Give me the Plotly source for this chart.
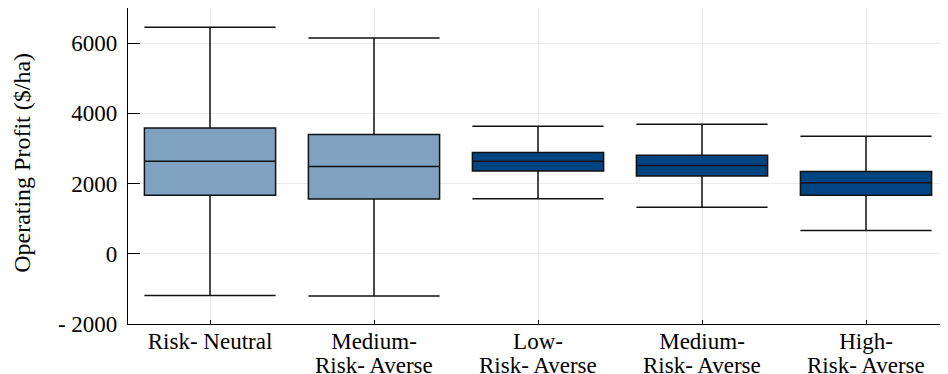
import plotly.graph_objects as go

line1 = ["Risk- Neutral", "Medium-", "Low-", "Medium-", "High-"]
line2 = ["", "Risk- Averse", "Risk- Averse", "Risk- Averse", "Risk- Averse"]
lower = [-1185, -1200, 1570, 1325, 660]
q1 = [1665, 1560, 2355, 2213, 1665]
median = [2638, 2488, 2638, 2516, 2023]
q3 = [3583, 3396, 2885, 2809, 2346]
upper = [6450, 6147, 3631, 3688, 3348]
colors = ["#7fa2c0", "#7fa2c0", "#004481", "#004481", "#004481"]

y_tickvals = [-2000, 0, 2000, 4000, 6000]
y_ticktext = ["- 2000", "0", "2000", "4000", "6000"]
y_title = "Operating Profit ($/ha)"

FONT = "Liberation Serif"
fig = go.Figure()
for i in range(len(line1)):
    fig.add_trace(go.Box(
        x=[i], q1=[q1[i]], median=[median[i]], q3=[q3[i]],
        lowerfence=[lower[i]], upperfence=[upper[i]],
        width=0.8, whiskerwidth=1,
        fillcolor=colors[i],
        line=dict(color="#111111", width=1.5),
        boxpoints=False, showlegend=False, hoverinfo="skip",
    ))
    if line2[i]:
        fig.add_annotation(
            x=i, y=0, xref="x", yref="paper", text=line2[i],
            showarrow=False, yanchor="top", yshift=-27,
            font=dict(family=FONT, size=23, color="black"),
        )

# y-axis title as a rotated annotation pushed to the left edge
fig.add_annotation(
    x=0, y=0.51, xref="paper", yref="paper", text=y_title,
    textangle=-90, showarrow=False, xanchor="left", yanchor="middle",
    xshift=-121, font=dict(family=FONT, size=24, color="black"),
)

# page body has an 8px margin, so the figure is sized to fit the window
fig.update_layout(
    width=940, height=366,
    margin=dict(l=120, r=0, t=0, b=50, autoexpand=False),
    plot_bgcolor="white", paper_bgcolor="white",
    font=dict(family=FONT, size=23, color="black"),
    showlegend=False,
)
fig.update_xaxes(
    range=[-0.5, 4.5], tickvals=list(range(len(line1))), ticktext=line1,
    showgrid=True, gridcolor="#ebebeb", gridwidth=1,
    showline=True, linecolor="black", linewidth=1.2,
    ticks="inside", ticklen=4, tickcolor="black", zeroline=False,
    automargin=False, ticklabelstandoff=-4,
)
fig.update_yaxes(
    range=[-2000, 7000], tickvals=y_tickvals, ticktext=y_ticktext,
    showgrid=True, gridcolor="#ebebeb", gridwidth=1,
    showline=True, linecolor="black", linewidth=1.2,
    ticks="inside", ticklen=12, tickcolor="black", zeroline=False,
    automargin=False, ticklabelstandoff=5,
)

fig.write_html("out.html")
